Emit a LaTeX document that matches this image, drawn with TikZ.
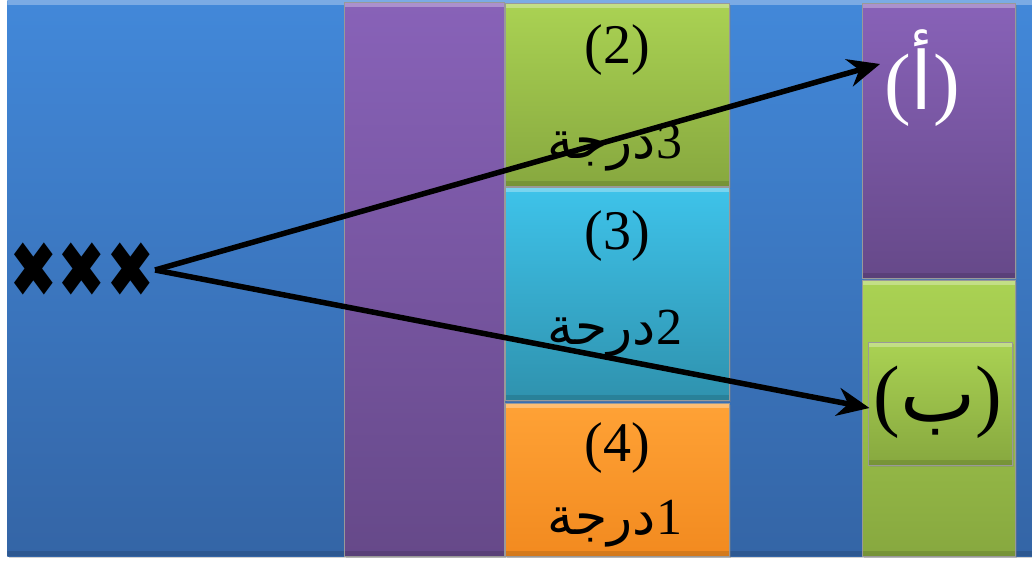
\documentclass[tikz,border=0pt]{standalone}
\usepackage{fontspec}
\usepackage{graphicx}
\setmainfont{Liberation Serif}
\newfontfamily\arabicfont[Script=Arabic]{DejaVu Sans}
\newfontfamily\symfont{DejaVu Sans}
\TeXXeTstate=1
\usetikzlibrary{arrows.meta,positioning,shadows}

\definecolor{bluTop}{HTML}{4288D9}
\definecolor{bluBot}{HTML}{3465A6}
\definecolor{purTop}{HTML}{8862B8}
\definecolor{purBot}{HTML}{664989}
\definecolor{grnTop}{HTML}{AAD253}
\definecolor{grnBot}{HTML}{87A83F}
\definecolor{cynTop}{HTML}{3EC3EA}
\definecolor{cynBot}{HTML}{2F92AE}
\definecolor{orgTop}{HTML}{FFA236}
\definecolor{orgBot}{HTML}{F28A1F}

\begin{document}
\begin{tikzpicture}[x=1pt,y=-1pt,>={Stealth[length=32pt,width=28pt]},
  panel/.style={rectangle,anchor=north west,inner sep=0pt,draw=black!40,line width=.6pt,
    drop shadow={opacity=.35,shadow xshift=1.5pt,shadow yshift=-2pt},
    path picture={\fill[white,opacity=.3] (path picture bounding box.north west)
      rectangle ([yshift=-5pt]path picture bounding box.north east);
      \fill[black,opacity=.12] (path picture bounding box.south west)
      rectangle ([yshift=5pt]path picture bounding box.south east);}},
  pnl/.style={top color=#1Top,bottom color=#1Bot},
  num/.style={font=\fontsize{56}{56}\selectfont,inner sep=0pt},
  deg/.style={font=\fontsize{52}{52}\selectfont,inner sep=0pt},
  big/.style={font=\fontsize{80}{80}\selectfont,inner sep=0pt},
  arr/.style={->,line width=5.5pt}]
  \useasboundingbox[fill=white] (0,0) rectangle (1032,565);

  % columns
  \node[panel,pnl=blu,draw=none,minimum width=1025,minimum height=556] (bg) at (7,0) {};
  \node[panel,pnl=pur,minimum width=160,minimum height=554] (colL) at (344,2) {};
  \node[panel,pnl=grn,minimum width=224,minimum height=183] (deg3) at (505,3) {};
  \node[panel,pnl=cyn,minimum width=224,minimum height=213] (deg2) at (505,187) {};
  \node[panel,pnl=org,minimum width=224,minimum height=153] (deg1) at (505,403) {};
  \node[panel,pnl=pur,minimum width=153,minimum height=275] (boxA) at (862,3) {};
  \node[panel,pnl=grn,minimum width=153,minimum height=276] (boxB) at (862,280) {};
  \node[panel,pnl=grn,minimum width=144,minimum height=123] (boxBin) at (868,342) {};

  % texts
  \node[num] (n2) at (617,50) {(2)};
  \node[deg] (t3) at (615,148) {{\arabicfont\beginR درجة\endR}3};
  \node[num] (n3) at (617,236) {(3)};
  \node[deg] (t2) at (615,334) {{\arabicfont\beginR درحة\endR}2};
  \node[num] (n4) at (617,448) {(4)};
  \node[deg] (t1) at (615,524) {{\arabicfont\beginR درجة\endR}1};
  \node[big,text=white] (la) at (922,78) {({\arabicfont\beginR أ\endR})};
  \node[big] (lb) at (938,402) {({\arabicfont\beginR ب\endR})};
  \node[font=\symfont\fontsize{58}{58}\selectfont,inner sep=0pt] (xxx) at (82,270)
    {\scalebox{1}[1.35]{✖✖✖}};

  \draw[arr] (xxx.east) -- ([xshift=-4pt,yshift=14pt]la.west);
  \draw[arr] (xxx.east) -- ([xshift=-4pt,yshift=-6pt]lb.west);
\end{tikzpicture}
\end{document}
